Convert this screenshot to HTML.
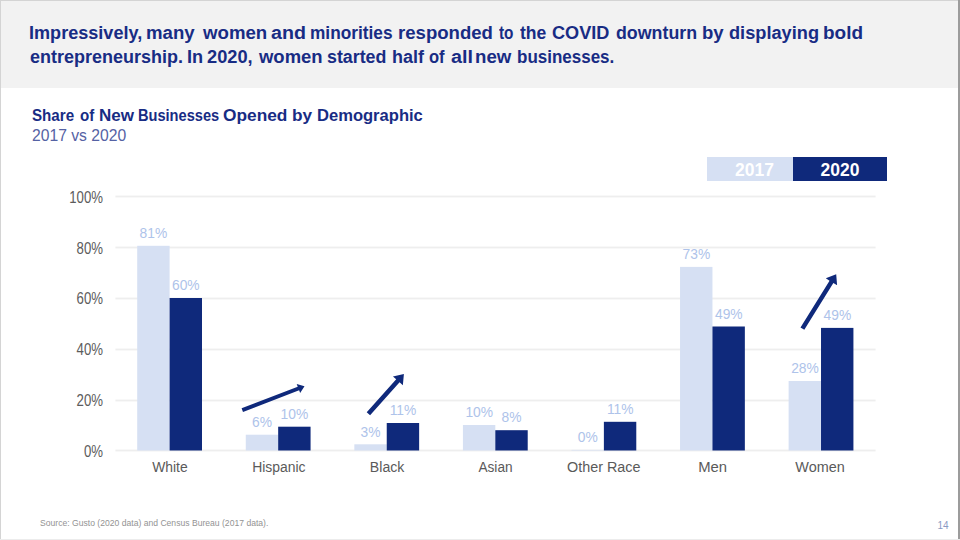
<!DOCTYPE html>
<html>
<head>
<meta charset="utf-8">
<style>
html,body{margin:0;padding:0;}
body{width:960px;height:540px;position:relative;overflow:hidden;background:#fff;font-family:"Liberation Sans",sans-serif;}
.abs{position:absolute;white-space:pre;}
.w{position:absolute;top:0;white-space:pre;transform-origin:0 50%;}
#hdr{position:absolute;left:0;top:0;width:960px;height:88px;background:#f2f2f2;}
.t1{font-weight:bold;font-size:18px;color:#182c84;line-height:22px;left:29.5px;}
.ct{font-weight:bold;font-size:16px;color:#182c84;line-height:18px;left:32px;top:107px;}
.st{font-size:15.7px;color:#5562a4;line-height:18px;left:32px;top:126.8px;transform:scaleY(1.05);transform-origin:0 50%;}
.leg{position:absolute;top:157px;height:24px;}
.legt{position:absolute;top:1px;width:100%;text-align:center;font-weight:bold;font-size:17.5px;line-height:24px;color:#fff;}
.grid{position:absolute;left:115px;width:761px;height:1px;background:#dedede;}
.yl{position:absolute;left:40px;margin-top:0.5px;width:63px;text-align:right;font-size:13.2px;color:#5c5c5c;line-height:16px;transform:scaleY(1.2);transform-origin:50% 50%;}
.bar{position:absolute;width:32.4px;}
.lt{background:#d6e0f3;}
.dk{background:#0f297b;}
.dl{position:absolute;width:60px;text-align:center;font-size:13.8px;color:#aec3ea;line-height:14px;margin-top:0.5px;}
.cl{position:absolute;width:120px;text-align:center;font-size:14px;color:#5a5a5a;line-height:16px;top:459px;}
.cl span{display:inline-block;transform-origin:50% 50%;}
#src{left:40px;top:517px;font-size:8.6px;color:#939393;line-height:12px;}
#pg{left:937.5px;top:519.5px;font-size:10px;color:#8a9ac4;line-height:12px;}
#bl{position:absolute;left:0;top:0;width:1px;height:540px;background:#d4d4d4;}
#bt{position:absolute;left:0;top:0;width:960px;height:1px;background:#d4d4d4;}
#br{position:absolute;left:958px;top:0;width:2px;height:540px;background:#9c9c9c;}
#bb{position:absolute;left:0;top:539px;width:960px;height:1px;background:#ececec;}
</style>
</head>
<body>
<div id="hdr"></div>
<div class="t1 abs" style="top:22px;left:0;width:960px;height:22px;"><span class="w" style="left:29.05px;transform:scaleX(1.004)">Impressively,</span><span class="w" style="left:146.26px;transform:scaleX(1.034)">many</span><span class="w" style="left:202.50px;transform:scaleX(1.036)">women</span><span class="w" style="left:271.35px;transform:scaleX(1.092)">and</span><span class="w" style="left:310.10px;transform:scaleX(0.959)">minorities</span><span class="w" style="left:397.51px;transform:scaleX(1.032)">responded</span><span class="w" style="left:498.58px;transform:scaleX(0.854)">to</span><span class="w" style="left:519.80px;transform:scaleX(0.977)">the</span><span class="w" style="left:552.39px;transform:scaleX(1.007)">COVID</span><span class="w" style="left:616.21px;transform:scaleX(0.989)">downturn</span><span class="w" style="left:701.76px;transform:scaleX(1.030)">by</span><span class="w" style="left:729.09px;transform:scaleX(1.011)">displaying</span><span class="w" style="left:823.44px;transform:scaleX(1.053)">bold</span></div>
<div class="t1 abs" style="top:45.5px;left:0;width:960px;height:22px;"><span class="w" style="left:29.55px;transform:scaleX(0.999)">entrepreneurship.</span><span class="w" style="left:186.89px;transform:scaleX(1.007)">In</span><span class="w" style="left:206.89px;transform:scaleX(1.013)">2020,</span><span class="w" style="left:258.75px;transform:scaleX(1.026)">women</span><span class="w" style="left:327.41px;transform:scaleX(0.990)">started</span><span class="w" style="left:391.80px;transform:scaleX(0.998)">half</span><span class="w" style="left:429.36px;transform:scaleX(0.920)">of</span><span class="w" style="left:450.70px;transform:scaleX(1.099)">all</span><span class="w" style="left:475.01px;transform:scaleX(1.036)">new</span><span class="w" style="left:516.97px;transform:scaleX(0.944)">businesses.</span></div>

<div class="abs ct" style="left:0;width:960px;height:18px;letter-spacing:0;"><span class="w" style="left:32.23px;transform:scaleX(0.947)">Share</span><span class="w" style="left:80.43px;transform:scaleX(0.945)">of</span><span class="w" style="left:98.83px;transform:scaleX(1.063)">New</span><span class="w" style="left:137.80px;transform:scaleX(0.912)">Businesses</span><span class="w" style="left:223.44px;transform:scaleX(1.081)">Opened</span><span class="w" style="left:292.12px;transform:scaleX(1.075)">by</span><span class="w" style="left:317.16px;transform:scaleX(1.035)">Demographic</span></div>
<div class="abs st">2017 vs 2020</div>

<div class="leg" style="left:707px;width:86px;background:#d6e0f3;"><div class="legt" style="padding-left:9px;box-sizing:border-box;">2017</div></div>
<div class="leg" style="left:793px;width:94px;background:#0f297b;"><div class="legt">2020</div></div>


<svg style="position:absolute;left:0;top:0;" width="960" height="540">
  <rect x="115.4" y="195.6" width="760.2" height="1.8" fill="#eeeeee"/>
  <rect x="115.4" y="246.6" width="760.2" height="1.8" fill="#eeeeee"/>
  <rect x="115.4" y="297.6" width="760.2" height="1.8" fill="#eeeeee"/>
  <rect x="115.4" y="348.6" width="760.2" height="1.8" fill="#eeeeee"/>
  <rect x="115.4" y="399.6" width="760.2" height="1.8" fill="#eeeeee"/>
  <rect x="115.4" y="449.6" width="760.2" height="1.8" fill="#eeeeee"/>
  <rect x="137.20" y="245.80" width="32.4" height="204.70" fill="#d6e0f3"/>
  <rect x="169.60" y="298.00" width="32.4" height="152.50" fill="#0f297b"/>
  <rect x="245.77" y="434.70" width="32.4" height="15.80" fill="#d6e0f3"/>
  <rect x="278.17" y="426.70" width="32.4" height="23.80" fill="#0f297b"/>
  <rect x="354.34" y="444.30" width="32.4" height="6.20" fill="#d6e0f3"/>
  <rect x="386.74" y="423.00" width="32.4" height="27.50" fill="#0f297b"/>
  <rect x="462.91" y="425.00" width="32.4" height="25.50" fill="#d6e0f3"/>
  <rect x="495.31" y="430.20" width="32.4" height="20.30" fill="#0f297b"/>
  <rect x="571.48" y="449.90" width="32.4" height="0.60" fill="#d6e0f3"/>
  <rect x="603.88" y="421.80" width="32.4" height="28.70" fill="#0f297b"/>
  <rect x="680.05" y="266.90" width="32.4" height="183.60" fill="#d6e0f3"/>
  <rect x="712.45" y="326.50" width="32.4" height="124.00" fill="#0f297b"/>
  <rect x="788.62" y="381.00" width="32.4" height="69.50" fill="#d6e0f3"/>
  <rect x="821.02" y="327.90" width="32.4" height="122.60" fill="#0f297b"/>
</svg>
<div class="yl" style="top:189px;">100%</div>
<div class="yl" style="top:240px;">80%</div>
<div class="yl" style="top:290px;">60%</div>
<div class="yl" style="top:341px;">40%</div>
<div class="yl" style="top:392px;">20%</div>
<div class="yl" style="top:443px;">0%</div>


<!-- data labels -->
<div class="dl" style="left:123.4px;top:226px;">81%</div>
<div class="dl" style="left:155.8px;top:278px;">60%</div>
<div class="dl" style="left:232px;top:415px;">6%</div>
<div class="dl" style="left:264.4px;top:407px;">10%</div>
<div class="dl" style="left:340.6px;top:425px;">3%</div>
<div class="dl" style="left:373px;top:403px;">11%</div>
<div class="dl" style="left:449.2px;top:405px;">10%</div>
<div class="dl" style="left:481.6px;top:410px;">8%</div>
<div class="dl" style="left:557.8px;top:430px;">0%</div>
<div class="dl" style="left:590.2px;top:402px;">11%</div>
<div class="dl" style="left:666.4px;top:247px;">73%</div>
<div class="dl" style="left:698.8px;top:307px;">49%</div>
<div class="dl" style="left:775px;top:361px;">28%</div>
<div class="dl" style="left:807.4px;top:308px;">49%</div>

<!-- category labels -->

<div class="cl" style="left:110.15px;"><span style="transform:scaleX(0.991);">White</span></div>
<div class="cl" style="left:218.55px;"><span style="transform:scaleX(0.994);">Hispanic</span></div>
<div class="cl" style="left:327.25px;"><span style="transform:scaleX(1.008);">Black</span></div>
<div class="cl" style="left:435.65px;"><span style="transform:scaleX(0.975);">Asian</span></div>
<div class="cl" style="left:544.05px;"><span style="transform:scaleX(1.026);">Other Race</span></div>
<div class="cl" style="left:652.80px;"><span style="transform:scaleX(1.06);">Men</span></div>
<div class="cl" style="left:759.55px;"><span style="transform:scaleX(1.030);">Women</span></div>
<svg style="position:absolute;left:0;top:0;" width="960" height="540">
  <g fill="#0f297b">
    <polygon points="243.00,411.92 299.13,390.35 300.15,393.01 304.50,386.20 296.71,384.05 297.73,386.71 241.60,408.28"/>
    <polygon points="370.08,415.30 399.58,382.31 402.86,385.24 403.90,374.10 392.94,376.38 396.22,379.31 366.72,412.30"/>
    <polygon points="804.31,329.79 833.36,283.03 837.10,285.35 836.20,274.20 825.80,278.34 829.54,280.66 800.49,327.41"/>
  </g>
</svg>

<div class="abs" id="src">Source: Gusto (2020 data) and Census Bureau (2017 data).</div>
<div class="abs" id="pg">14</div>

<div id="bl"></div><div id="bt"></div><div id="br"></div><div id="bb"></div>
</body>
</html>
